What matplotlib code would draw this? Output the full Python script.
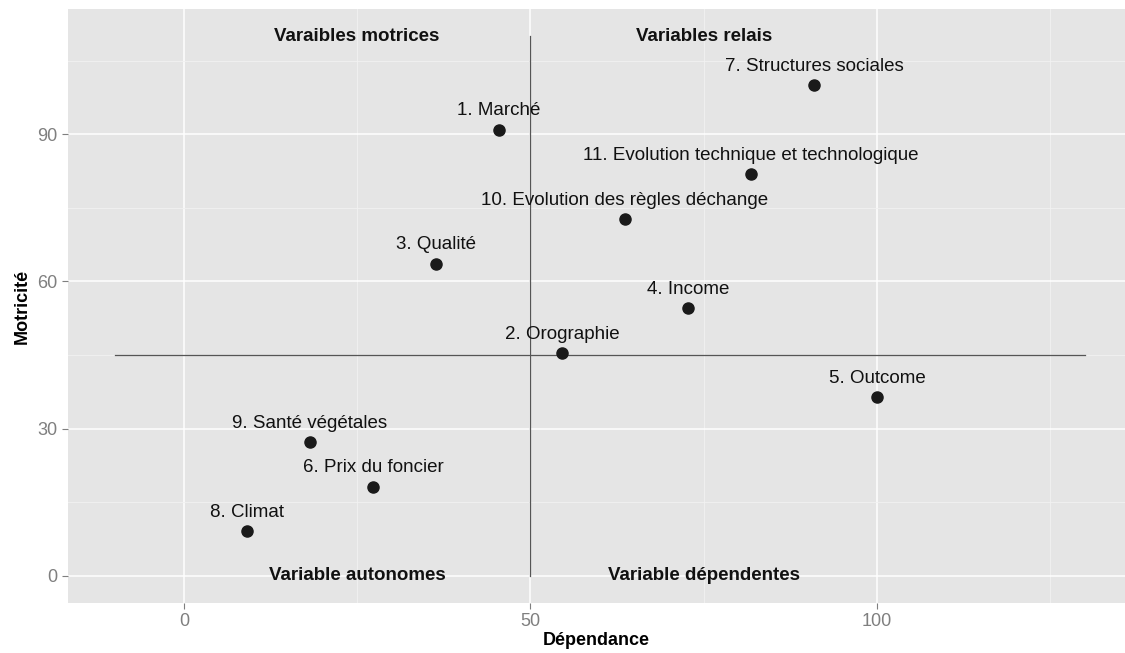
# Matrice motricité / dépendance des variables

import matplotlib.pyplot as plt
from matplotlib.ticker import MultipleLocator

plt.rcParams['font.family'] = ['Liberation Sans', 'DejaVu Sans']

# Données
labels = ["1. Marché", "2. Orographie", "3. Qualité", "4. Income", "5. Outcome",
          "6. Prix du foncier", "7. Structures sociales", "8. Climat",
          "9. Santé végétales", "10. Evolution des règles déchange",
          "11. Evolution technique et technologique"]
dependance = [45.45, 54.55, 36.36, 72.73, 100.0, 27.27, 90.91, 9.09, 18.18, 63.64, 81.82]
motricite = [90.91, 45.45, 63.64, 54.55, 36.36, 18.18, 100.0, 9.09, 27.27, 72.73, 81.82]

# Quadrants
quad_labels = ["Varaibles motrices", "Variables relais", "Variable autonomes", "Variable dépendentes"]
quad_x = [25, 75, 25, 75]
quad_y = [110, 110, 0, 0]

# Axes de séparation
vline_x = 50
vline_y = [0, 110]
hline_y = 45
hline_x = [-10, 130]

fig = plt.figure(figsize=(11.25, 6.53), dpi=100)
ax = fig.add_axes([0.06, 0.0766, 0.94, 0.9096])

ax.set_facecolor('#E5E5E5')
for s in ax.spines.values():
    s.set_visible(False)

ax.xaxis.set_major_locator(MultipleLocator(50))
ax.xaxis.set_minor_locator(MultipleLocator(25))
ax.yaxis.set_major_locator(MultipleLocator(30))
ax.yaxis.set_minor_locator(MultipleLocator(15))
ax.grid(which='major', color='white', linewidth=1.1)
ax.grid(which='minor', color='#F2F2F2', linewidth=0.6)
ax.set_axisbelow(True)

ax.tick_params(which='major', length=4, width=0.8, color='#7F7F7F',
               labelcolor='#7F7F7F', labelsize=13, pad=3)
ax.tick_params(which='minor', length=0)

ax.plot([vline_x, vline_x], vline_y, color='#555555', linewidth=0.9)
ax.plot(hline_x, [hline_y, hline_y], color='#555555', linewidth=0.9)

ax.plot(dependance, motricite, 'o', color='#1A1A1A', markersize=8, zorder=3)

for lab, x, y in zip(labels, dependance, motricite):
    ax.annotate(lab, (x, y), xytext=(0, 13.5), textcoords='offset points',
                ha='center', va='center', fontsize=13.5, color='#111111')

for lab, x, y in zip(quad_labels, quad_x, quad_y):
    ax.text(x, y, lab, ha='center', va='center', fontsize=13.5,
            fontweight='bold', color='#111111')

ax.set_xlim(-16.8, 135.8)
ax.set_ylim(-5.5, 115.5)

ax.set_xlabel("Dépendance", fontsize=13, fontweight='bold', labelpad=2)
ax.set_ylabel("Motricité", fontsize=13, fontweight='bold', labelpad=5)

plt.savefig("out.png", dpi=100)
